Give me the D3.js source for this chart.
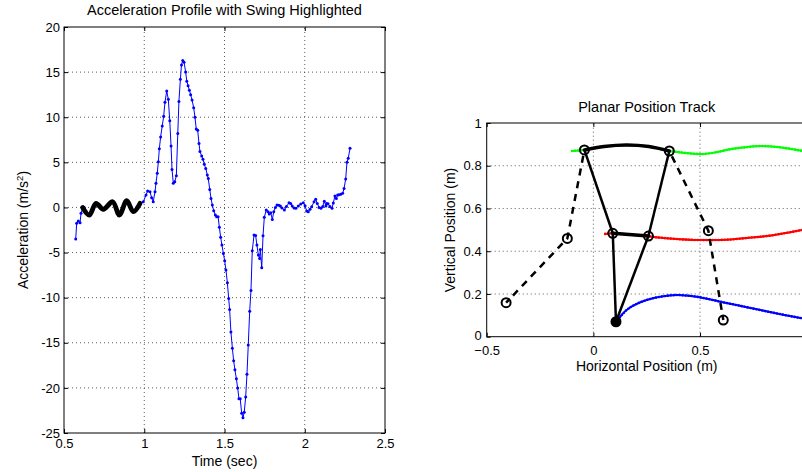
<!DOCTYPE html>
<html>
<head>
<meta charset="utf-8">
<script src="https://d3js.org/d3.v7.min.js"></script>
<style>
  body { margin: 0; background: #fff; }
  svg text { font-family: "Liberation Sans", Arial, sans-serif; fill: #000; }
</style>
</head>
<body>
<svg id="fig" width="802" height="472"></svg>
<script>
// ---------- data: acceleration profile ----------
var accTime = [0.573,0.579,0.589,0.600,0.606,0.616,0.626,0.637,0.658,0.679,0.699,0.722,0.745,0.774,0.803,0.824,0.845,0.868,0.891,0.912,0.932,0.953,0.974,0.994,
  1.011,1.021,1.036,1.046,1.056,1.067,1.073,1.081,1.088,1.094,1.102,1.112,1.121,1.129,1.140,1.150,1.159,1.167,1.173,1.181,1.190,1.200,1.209,1.216,1.225,1.232,1.240,1.248,
  1.258,1.265,1.273,1.281,1.289,1.298,1.308,1.316,1.324,1.333,1.341,1.347,1.358,1.366,1.374,1.383,1.393,1.399,1.408,1.416,1.424,1.433,1.443,1.451,1.460,1.468,1.476,
  1.484,1.493,1.501,1.509,1.518,1.526,1.532,1.540,1.549,1.557,1.565,1.574,1.582,1.590,1.598,1.607,1.615,1.623,1.632,1.640,1.648,1.657,1.665,1.673,1.684,1.694,1.702,
  1.711,1.719,1.723,1.732,1.740,1.748,1.760,1.771,1.779,1.788,1.798,1.807,1.817,1.827,1.838,1.848,1.858,1.873,1.886,1.902,1.912,1.922,1.933,1.945,1.960,1.975,1.991,
  2.002,2.012,2.022,2.033,2.043,2.058,2.068,2.078,2.089,2.101,2.112,2.122,2.132,2.137,2.145,2.157,2.170,2.178,2.188,2.197,2.205,2.213,2.224,2.236,2.245,2.255,2.263,2.271,2.282];
var accValue = [-3.5,-1.76,-1.5,-1.7,-0.65,-0.1,0.0,-0.45,-0.8,-0.1,0.4,0.1,-0.25,0.2,0.6,-0.1,-0.8,0.0,0.75,0.1,-0.45,0.0,0.45,0.63,
  1.37,1.82,1.74,1.08,0.63,1.74,2.67,3.8,5.07,6.5,7.8,9.03,10.1,11.65,12.9,12.0,9.6,6.8,4.2,2.67,2.85,3.5,8.2,11.75,14.2,15.8,16.3,16.1,
  15.0,14.0,13.5,13.0,12.5,11.9,11.05,10.0,8.7,8.55,7.1,6.2,5.7,5.33,4.8,4.33,3.6,3.2,2.0,1.0,0.26,-0.37,-0.84,-1.03,-1.03,-2.2,-3.3,
  -4.17,-5.1,-5.9,-6.94,-8.35,-10.1,-11.3,-13.8,-15.6,-17.0,-18.0,-19.0,-20.0,-21.2,-21.2,-22.8,-23.3,-22.7,-21.0,-18.5,-15.25,-11.5,-9.2,-4.8,-3.06,-3.1,-4.17,
  -5.28,-5.65,-4.65,-6.68,-3.14,-1.1,-0.29,-0.48,-0.73,-0.6,-1.33,-0.48,0.0,0.27,0.25,0.15,-0.05,-0.29,0.1,0.52,0.45,0.15,-0.05,-0.1,0.15,0.38,0.52,
  0.2,-0.4,-0.47,-0.2,0.08,0.63,0.9,0.45,0.0,-0.1,0.1,0.7,0.15,0.45,0.4,0.1,-0.1,0.5,1.26,1.0,1.37,1.4,1.45,1.56,2.1,3.15,5.0,5.44,6.55];
// highlighted swing section
var swingTime  = [0.616,0.658,0.699,0.745,0.803,0.845,0.891,0.932,0.974];
var swingValue = [0.0,-0.84,0.45,-0.2,0.63,-0.84,0.74,-0.47,0.45];

var accXTicks = [0.5,1,1.5,2,2.5];
var accYTicks = [-25,-20,-15,-10,-5,0,5,10,15,20];

// ---------- data: planar position track ----------
var hipX  = [-0.10,-0.042,0.05,0.156,0.26,0.356,0.383,0.45,0.516,0.58,0.641,0.71,0.781,0.85,0.906,0.978,1.0];
var hipY  = [0.869,0.874,0.890,0.897,0.890,0.869,0.866,0.858,0.855,0.864,0.877,0.886,0.892,0.889,0.882,0.870,0.868];
var hipSwingX = [-0.042,0.05,0.156,0.26,0.356];
var hipSwingY = [0.874,0.890,0.897,0.890,0.869];
var kneeX = [0.055,0.091,0.17,0.258,0.273,0.34,0.406,0.47,0.531,0.6,0.656,0.73,0.813,0.9,0.978,1.0];
var kneeY = [0.481,0.484,0.478,0.471,0.468,0.461,0.456,0.453,0.452,0.453,0.456,0.463,0.471,0.485,0.499,0.502];
var kneeSwingX = [0.091,0.258];
var kneeSwingY = [0.484,0.471];
var ankleX = [0.106,0.156,0.20,0.25,0.32,0.391,0.484,0.594,0.719,0.844,0.978,1.0];
var ankleY = [0.070,0.125,0.152,0.172,0.188,0.195,0.187,0.164,0.138,0.112,0.086,0.082];
// stick figure joints: hip1, hip2, knee1, knee2, ankle
var jointX = [-0.042,0.356,0.091,0.258,0.106];
var jointY = [0.874,0.869,0.484,0.471,0.070];
// dashed limbs (hip -> knee -> foot) of the other leg positions
var dashAX = [-0.042,-0.122,-0.409];
var dashAY = [0.874,0.460,0.159];
var dashBX = [0.356,0.539,0.609];
var dashBY = [0.869,0.496,0.078];

var posXTicks = [-0.5,0,0.5,1];
var posYTicks = [0,0.2,0.4,0.6,0.8,1];

// ---------- helpers ----------
var svg = d3.select("#fig");
svg.append("rect").attr("width", 802).attr("height", 472).attr("fill", "#fff");

var TICK_FS = 13, LABEL_FS = 14, TITLE_FS = 14.5;

function zip(a, b) { return a.map(function (d, i) { return [d, b[i]]; }); }

function drawGrid(g, x, y, xt, yt) {
  var x0 = x.range()[0], x1 = x.range()[1], y0 = y.range()[0], y1 = y.range()[1];
  g.selectAll(".gx").data(xt.slice(1, -1)).enter().append("line")
    .attr("x1", function (d) { return x(d); }).attr("x2", function (d) { return x(d); })
    .attr("y1", y0).attr("y2", y1)
    .attr("stroke", "#333").attr("stroke-width", 0.8).attr("stroke-dasharray", "1,3");
  g.selectAll(".gy").data(yt.slice(1, -1)).enter().append("line")
    .attr("y1", function (d) { return y(d); }).attr("y2", function (d) { return y(d); })
    .attr("x1", x0).attr("x2", x1)
    .attr("stroke", "#333").attr("stroke-width", 0.8).attr("stroke-dasharray", "1,3");
}

function drawAxes(g, x, y, xt, yt, xfmt, yfmt, xpad, ypad) {
  var x0 = x.range()[0], x1 = x.range()[1], y0 = y.range()[0], y1 = y.range()[1];
  function style(sel) {
    sel.select(".domain").remove();
    sel.selectAll("line").attr("stroke", "#000");
    sel.selectAll("text").attr("font-size", TICK_FS).attr("font-family", "Liberation Sans, Arial, sans-serif");
  }
  g.append("g").attr("transform", "translate(0," + y0 + ")")
    .call(d3.axisBottom(x).tickValues(xt).tickFormat(xfmt).tickSizeInner(-4).tickSizeOuter(0).tickPadding(xpad)).call(style);
  g.append("g").attr("transform", "translate(0," + y1 + ")")
    .call(d3.axisTop(x).tickValues(xt).tickFormat("").tickSizeInner(-4).tickSizeOuter(0)).call(style);
  var left = g.append("g").attr("transform", "translate(" + x0 + ",0)")
    .call(d3.axisLeft(y).tickValues(yt).tickFormat(yfmt).tickSizeInner(-4).tickSizeOuter(0).tickPadding(ypad)).call(style);
  g.append("g").attr("transform", "translate(" + x1 + ",0)")
    .call(d3.axisRight(y).tickValues(yt).tickFormat("").tickSizeInner(-4).tickSizeOuter(0)).call(style);
  g.append("rect").attr("x", x0).attr("y", y1).attr("width", x1 - x0).attr("height", y0 - y1)
    .attr("fill", "none").attr("stroke", "#000").attr("stroke-width", 1);
  return left;
}

//////////
// LEFT: acceleration profile
//////////
var xL = d3.scaleLinear().domain([0.5, 2.5]).range([64, 385]);
var yL = d3.scaleLinear().domain([-25, 20]).range([433, 27]);
var gL = svg.append("g");

drawGrid(gL, xL, yL, accXTicks, accYTicks);

var lineL = d3.line().x(function (d) { return xL(d[0]); }).y(function (d) { return yL(d[1]); });
var acc = zip(accTime, accValue);
gL.append("path").datum(acc).attr("d", lineL)
  .attr("fill", "none").attr("stroke", "#0000ff").attr("stroke-width", 1);
gL.selectAll(".accdot").data(acc).enter().append("circle")
  .attr("cx", function (d) { return xL(d[0]); }).attr("cy", function (d) { return yL(d[1]); })
  .attr("r", 1.5).attr("fill", "#0000ff");

var swing = zip(swingTime, swingValue);
gL.append("path").datum(swing).attr("d", lineL.curve(d3.curveCatmullRom))
  .attr("fill", "none").attr("stroke", "#000").attr("stroke-width", 4.8)
  .attr("stroke-linecap", "round").attr("stroke-linejoin", "round");

drawAxes(gL, xL, yL, accXTicks, accYTicks, String, String, 6, 4);

gL.append("text").attr("x", 224.5).attr("y", 15).attr("text-anchor", "middle")
  .attr("font-size", TITLE_FS).text("Acceleration Profile with Swing Highlighted");
gL.append("text").attr("x", 224.5).attr("y", 466).attr("text-anchor", "middle")
  .attr("font-size", LABEL_FS).text("Time (sec)");
var yl = gL.append("text").attr("transform", "translate(28,230) rotate(-90)")
  .attr("text-anchor", "middle").attr("font-size", LABEL_FS);
yl.append("tspan").text("Acceleration (m/s");
yl.append("tspan").attr("font-size", 9.5).attr("dy", -5).text("2");
yl.append("tspan").attr("dy", 5).text(")");

//////////
// RIGHT: planar position track
//////////
var xR = d3.scaleLinear().domain([-0.5, 1]).range([486.7, 806.7]);
var yR = d3.scaleLinear().domain([0, 1]).range([336.7, 123]);
var gR = svg.append("g");

svg.append("defs").append("clipPath").attr("id", "clipR")
  .append("rect").attr("x", 486.7).attr("y", 123).attr("width", 320).attr("height", 213.7);

drawGrid(gR, xR, yR, posXTicks, posYTicks);

var plot = gR.append("g").attr("clip-path", "url(#clipR)");
var lineR = d3.line().curve(d3.curveCatmullRom)
  .x(function (d) { return xR(d[0]); }).y(function (d) { return yR(d[1]); });

function track(xs, ys, color) {
  var pts = zip(xs, ys);
  var p = plot.append("path").datum(pts).attr("d", lineR)
    .attr("fill", "none").attr("stroke", color).attr("stroke-width", 2);
  // dotted markers along the sampled path
  var node = p.node(), len = node.getTotalLength();
  var marks = d3.range(0, len, 3).map(function (l) { return node.getPointAtLength(l); });
  plot.selectAll(null).data(marks).enter().append("circle")
    .attr("cx", function (d) { return d.x; }).attr("cy", function (d) { return d.y; })
    .attr("r", 1.3).attr("fill", color);
}
track(hipX, hipY, "#00ff00");
track(kneeX, kneeY, "#ff0000");
track(ankleX, ankleY, "#0000ff");

// highlighted swing segments
plot.append("path").datum(zip(hipSwingX, hipSwingY)).attr("d", lineR)
  .attr("fill", "none").attr("stroke", "#000").attr("stroke-width", 3.5).attr("stroke-linecap", "round");
plot.append("path").datum(zip(kneeSwingX, kneeSwingY)).attr("d", lineR)
  .attr("fill", "none").attr("stroke", "#000").attr("stroke-width", 3.5).attr("stroke-linecap", "round");

// stick figure
var J = zip(jointX, jointY);
[[0, 2], [1, 3], [2, 4], [3, 4]].forEach(function (s) {
  plot.append("line")
    .attr("x1", xR(J[s[0]][0])).attr("y1", yR(J[s[0]][1]))
    .attr("x2", xR(J[s[1]][0])).attr("y2", yR(J[s[1]][1]))
    .attr("stroke", "#000").attr("stroke-width", 2.5);
});
var lineD = d3.line().x(function (d) { return xR(d[0]); }).y(function (d) { return yR(d[1]); });
[zip(dashAX, dashAY), zip(dashBX, dashBY)].forEach(function (pts) {
  plot.append("path").datum(pts).attr("d", lineD)
    .attr("fill", "none").attr("stroke", "#000").attr("stroke-width", 2.5)
    .attr("stroke-dasharray", "7,6").attr("stroke-dashoffset", -6);
  plot.selectAll(null).data(pts.slice(1)).enter().append("circle")
    .attr("cx", function (d) { return xR(d[0]); }).attr("cy", function (d) { return yR(d[1]); })
    .attr("r", 4.5).attr("fill", "none").attr("stroke", "#000").attr("stroke-width", 2);
});
plot.selectAll(null).data(J.slice(0, 4)).enter().append("circle")
  .attr("cx", function (d) { return xR(d[0]); }).attr("cy", function (d) { return yR(d[1]); })
  .attr("r", 4.5).attr("fill", "none").attr("stroke", "#000").attr("stroke-width", 2);
plot.append("circle").attr("cx", xR(J[4][0])).attr("cy", yR(J[4][1]))
  .attr("r", 5.5).attr("fill", "#000");

// the x = 1 tick sits past the picture's right edge, so its label is not shown
var leftR = drawAxes(gR, xR, yR, posXTicks, posYTicks,
  function (d) { return d >= 1 ? "" : (d < 0 ? "\u2212" + Math.abs(d) : String(d)); }, String, 9, 5);
// lift the corner "0" a touch so it clears the "-0.5" below it
leftR.selectAll(".tick text").filter(function (d) { return d === 0; }).attr("dy", "0.2em");

gR.append("text").attr("x", 646.7).attr("y", 111.5).attr("text-anchor", "middle")
  .attr("font-size", TITLE_FS).text("Planar Position Track");
gR.append("text").attr("x", 646.7).attr("y", 371).attr("text-anchor", "middle")
  .attr("font-size", LABEL_FS).text("Horizontal Position (m)");
gR.append("text").attr("transform", "translate(455,230) rotate(-90)")
  .attr("text-anchor", "middle").attr("font-size", LABEL_FS).text("Vertical Position (m)");
</script>
</body>
</html>
